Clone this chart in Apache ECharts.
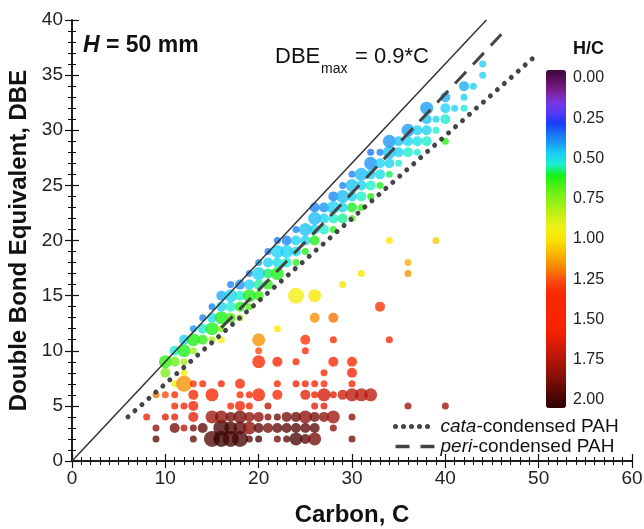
<!DOCTYPE html>
<html><head><meta charset="utf-8">
<script src="https://cdn.jsdelivr.net/npm/echarts@6/dist/echarts.min.js"></script>
<style>html,body{margin:0;padding:0;background:#fff}#c{width:644px;height:529px}</style>
</head><body><div id="c"></div>
<script>
// ---- data: [carbon C, DBE, H/C, size class] ----
const aromaticBand = [
 [10,8,0.75,2],[10,9,0.65,3],
 [11,7,0.95,1],[11,9,0.72,2],[11,10,0.55,2],
 [12,8,0.95,1],[12,9,0.8,1],[12,10,0.63,3],[12,11,0.5,2],
 [13,10,0.78,1],[13,11,0.63,3],[13,12,0.42,1],
 [14,11,0.65,2],[14,12,0.55,2],[14,13,0.4,1],
 [15,11,0.8,1],[15,12,0.63,3],[15,13,0.52,2],[15,14,0.4,1],
 [16,11,0.95,1],[16,12,0.75,1],[16,13,0.63,3],[16,14,0.5,2],[16,15,0.45,2],
 [17,13,0.68,2],[17,14,0.56,2],[17,15,0.5,3],[17,16,0.4,1],
 [18,13,0.8,1],[18,14,0.63,2],[18,15,0.56,2],[18,16,0.42,2],
 [19,14,0.68,1],[19,15,0.63,3],[19,16,0.5,2],[19,17,0.4,1],
 [20,15,0.66,2],[20,16,0.58,2],[20,17,0.5,3],[20,18,0.42,1],
 [21,16,0.65,2],[21,17,0.6,2],[21,18,0.5,2],[21,19,0.4,1],
 [22,17,0.63,3],[22,18,0.52,2],[22,19,0.5,3],[22,20,0.38,1],
 [23,18,0.56,2],[23,19,0.5,3],[23,20,0.4,2],
 [24,18,0.65,1],[24,19,0.52,2],[24,20,0.5,2],[24,21,0.4,1],
 [25,19,0.63,1],[25,20,0.5,2],[25,21,0.48,3],
 [26,20,0.63,2],[26,21,0.5,2],[26,22,0.47,3],[26,23,0.4,2],
 [27,21,0.56,2],[27,22,0.5,2],[27,23,0.42,2],
 [28,21,0.65,1],[28,22,0.56,2],[28,23,0.5,3],[28,24,0.4,2],
 [29,22,0.58,2],[29,23,0.5,2],[29,24,0.47,3],[29,25,0.4,1],
 [30,22,0.68,1],[30,23,0.62,2],[30,24,0.5,2],[30,25,0.48,3],[30,26,0.4,1],
 [31,23,0.65,1],[31,24,0.56,2],[31,25,0.5,2],[31,26,0.47,3],
 [32,24,0.63,1],[32,25,0.56,2],[32,26,0.5,2],[32,27,0.42,3],[32,28,0.38,1],
 [33,25,0.63,1],[33,26,0.52,2],[33,27,0.5,2],[33,28,0.4,1],
 [34,26,0.6,1],[34,27,0.5,2],[34,28,0.48,3],[34,29,0.42,3],
 [35,27,0.56,1],[35,28,0.5,2],[35,29,0.48,2],
 [36,28,0.56,2],[36,29,0.5,2],[36,30,0.43,3],
 [37,28,0.56,1],[37,29,0.53,2],[37,30,0.5,2],
 [38,29,0.56,2],[38,30,0.5,2],[38,31,0.48,2],[38,32,0.43,3],
 [39,30,0.56,1],[39,31,0.5,1],
 [40,29,0.65,1],[40,31,0.55,2],[40,32,0.5,2],[40,33,0.45,2],
 [41,32,0.5,1],
 [42,32,0.55,1],[42,33,0.5,1],[42,34,0.45,2],
 [43,34,0.5,1],
 [44,35,0.5,1],[44,36,0.5,1]
];
const aliphaticCluster = [
 [9,2,1.9,1],[13,2,1.88,1],[15,2,1.92,4],[16,2,1.98,4],[17,2,1.95,4],[18,2,1.95,4],[19,2,1.9,1],[20,2,1.95,1],[22,2,1.85,1],[23,2,1.9,1],[24,2,1.95,3],[25,2,1.9,2],[26,2,1.85,3],[30,2,1.85,1],
 [9,3,1.8,1],[11,3,1.85,2],[12,3,1.7,1],[13,3,1.85,1],[14,3,1.9,2],[16,3,1.95,4],[17,3,1.95,3],[18,3,1.9,3],[19,3,1.8,3],[20,3,1.9,2],[21,3,1.85,2],[22,3,1.9,2],[23,3,1.9,2],[24,3,1.92,2],[25,3,1.9,2],[26,3,1.9,2],[28,3,1.8,1],
 [8,4,1.55,1],[10,4,1.6,1],[11,4,1.6,1],[13,4,1.6,2],[15,4,1.75,3],[16,4,1.8,3],[17,4,1.85,2],[18,4,1.85,3],[19,4,1.8,2],[20,4,1.8,2],[21,4,1.8,1],[22,4,1.88,1],[23,4,1.85,2],[24,4,1.88,2],[25,4,1.8,3],[26,4,1.85,2],[27,4,1.8,2],[28,4,1.75,3],[30,4,1.8,1],
 [11,5,1.55,1],[12,5,1.55,1],[13,5,1.55,2],[17,5,1.5,1],[18,5,1.55,2],[19,5,1.55,1],[21,5,1.7,1],[26,5,1.6,1],[27,5,1.6,1],[36,5,1.75,1],[40,5,1.75,1],
 [9,6,1.2,1],[10,6,1.25,1],[11,6,1.35,1],[13,6,1.45,2],[15,6,1.5,3],[18,6,1.45,1],[19,6,1.45,1],[20,6,1.5,3],[22,6,1.45,2],[25,6,1.6,2],[26,6,1.55,1],[27,6,1.65,3],[28,6,1.6,1],[29,6,1.65,2],[30,6,1.7,3],[31,6,1.7,3],[32,6,1.7,3],
 [12,7,1.15,4],[13,7,1.3,1],[14,7,1.35,1],[16,7,1.5,1],[18,7,1.45,2],[22,7,1.45,1],[24,7,1.5,1],[25,7,1.55,1],[26,7,1.5,1],[27,7,1.45,1],[30,7,1.5,1],
 [27,8,1.45,1],[30,8,1.5,2]
];
const oddPoints = [
 [20,9,1.45,3],[22,9,1.45,2],[24,9,1.5,1],[28,9,1.45,2],[30,9,1.45,2],
 [20,10,1.25,1],[25,10,1.45,1],
 [20,11,1.15,3],[25,11,1.3,2],[28,11,1.4,1],[34,11,1.45,1],
 [22,12,1.0,1],[26,13,1.15,2],[28,13,1.2,2],[33,14,1.3,2],
 [24,15,0.95,4],[26,15,1.0,3],[29,16,1.0,1],[31,17,1.0,1],[36,17,1.15,1],[36,18,1.1,1],
 [34,20,1.0,1],[39,20,1.05,1]
];
const maxLine = [[0,0],[44.4,40]];
const cataLine = [[6,4],[50,37]];
const periLine = [[16,12.1],[20,15.5],[24,19],[30,24.3],[36,29.7],[42,35.1],[46,38.7]];
const hcTicks = [0,0.25,0.5,0.75,1,1.25,1.5,1.75,2];

const sizePx = [0,7,10,13,16];
const palette = ['#3a0a3a','#601060','#7a2090','#7a36e0','#5a3af5','#1a3af5','#1a70f5','#1aa0f5','#1ad2f5','#1af0c8','#14f014','#50f014','#80f014','#a8f014','#d0f014','#f0f014','#f8e600','#f8c400','#f8a000','#f87800','#f84a10','#f82a00','#f82800','#f82600','#f82400','#f02000','#d81c08','#c01808','#a01408','#881008','#680a06','#4a0604','#300202'];

const FONT = '"Liberation Sans", Arial, sans-serif';
const chart = echarts.init(document.getElementById('c'));
const axisCommon = {
  axisLine:{show:true,lineStyle:{color:'#111',width:1.5}},
  axisTick:{show:true,inside:true,length:7,lineStyle:{color:'#111',width:1.2}},
  splitLine:{show:false}
};
const minorX = {minorTick:{show:true,splitNumber:10,length:4,lineStyle:{color:'#111',width:1}}};
const minorY = {minorTick:{show:true,splitNumber:5,length:4,lineStyle:{color:'#111',width:1}}};
chart.setOption({
  animation:false,
  textStyle:{fontFamily:FONT},
  grid:[{left:72,right:12,top:20,bottom:68,outerBoundsMode:'none',containLabel:false},
        {left:546,width:20,top:78,height:322,show:false,outerBoundsMode:'none',containLabel:false}],
  xAxis:[
    Object.assign({type:'value',gridIndex:0,min:0,max:60,interval:10,position:'bottom',
      name:'Carbon, C',nameLocation:'middle',nameGap:42,
      nameTextStyle:{fontSize:24,fontWeight:'bold',color:'#111',fontFamily:FONT},
      axisLabel:{fontSize:19,color:'#222',margin:8,fontFamily:FONT}},axisCommon,minorX),
    Object.assign({type:'value',gridIndex:0,min:0,max:60,interval:10,position:'top',axisLabel:{show:false}},axisCommon,minorX),
    {type:'value',gridIndex:1,min:0,max:1,show:false}
  ],
  yAxis:[
    Object.assign({type:'value',gridIndex:0,min:0,max:40,interval:5,position:'left',
      name:'Double Bond Equivalent, DBE',nameLocation:'middle',nameGap:38,
      nameTextStyle:{fontSize:24,fontWeight:'bold',color:'#111',fontFamily:FONT},
      axisLabel:{fontSize:19,color:'#222',margin:9,fontFamily:FONT}},axisCommon,minorY),
    Object.assign({type:'value',gridIndex:0,min:0,max:40,interval:5,position:'right',axisLabel:{show:false}},axisCommon,minorY),
    {type:'value',gridIndex:1,min:hcTicks[0],max:hcTicks[hcTicks.length-1],interval:0.25,inverse:true,position:'right',
      axisLine:{show:false},axisTick:{show:false},splitLine:{show:false},
      axisLabel:{fontSize:16,color:'#222',margin:7,fontFamily:FONT,formatter:v=>v.toFixed(2)}}
  ],
  visualMap:{type:'continuous',min:0,max:2,dimension:2,seriesIndex:0,inverse:true,padding:0,
    left:546,top:70,itemWidth:20,itemHeight:338,calculable:false,hoverLink:false,
    showLabel:false,inRange:{color:palette}},
  legend:{left:388,top:412,orient:'vertical',itemWidth:40,itemHeight:12,itemGap:1,
    data:[
      {name:'cata-condensed PAH',lineStyle:{color:'#444',width:5,type:[0.01,8],cap:'round'}},
      {name:'peri-condensed PAH',lineStyle:{color:'#444',width:3.5,type:[14,11]}}
    ],
    itemStyle:{opacity:0},
    formatter:n=>{const i=n.indexOf('-');return '{i|'+n.slice(0,i)+'}-'+n.slice(i+1);},
    textStyle:{fontSize:19,color:'#111',fontFamily:FONT,rich:{i:{fontStyle:'italic',fontSize:19,fontFamily:FONT,color:'#111'}}}},
  series:[
    {type:'scatter',name:'PAH',xAxisIndex:0,yAxisIndex:0,z:2,
     data:aromaticBand.concat(aliphaticCluster,oddPoints),
     symbolSize:v=>sizePx[v[3]],itemStyle:{opacity:0.78},encode:{x:0,y:1}},
    {type:'line',name:'DBEmax',xAxisIndex:0,yAxisIndex:0,z:3,data:maxLine,symbol:'none',
     lineStyle:{color:'#333',width:1.5}},
    {type:'line',name:'cata-condensed PAH',xAxisIndex:0,yAxisIndex:0,z:4,data:cataLine,symbol:'none',
     itemStyle:{color:'#444'},lineStyle:{color:'#444',width:5,type:[0.01,9.3],cap:'round'}},
    {type:'line',name:'peri-condensed PAH',xAxisIndex:0,yAxisIndex:0,z:4,data:periLine,symbol:'none',smooth:true,
     itemStyle:{color:'#444'},lineStyle:{color:'#444',width:3,type:[16,10]}},
    {type:'scatter',xAxisIndex:2,yAxisIndex:2,data:[],silent:true}
  ],
  graphic:[
    {type:'text',left:83,top:34,style:{text:'{it|H}{b| = 50 mm}',rich:{it:{fontSize:23,fontWeight:'bold',fontStyle:'italic',fontFamily:FONT,fill:'#111'},b:{fontSize:23,fontWeight:'bold',fontFamily:FONT,fill:'#111'}}}},
    {type:'text',left:275,top:46,style:{text:'DBE',fontSize:22,fontFamily:FONT,fill:'#111'}},
    {type:'text',left:321,top:62,style:{text:'max',fontSize:14,fontFamily:FONT,fill:'#111'}},
    {type:'text',left:355,top:46,style:{text:'= 0.9*C',fontSize:22,fontFamily:FONT,fill:'#111'}},
    {type:'text',left:573,top:40,style:{text:'H/C',fontSize:18,fontWeight:'bold',fontFamily:FONT,fill:'#111'}}
  ]
});
</script></body></html>
